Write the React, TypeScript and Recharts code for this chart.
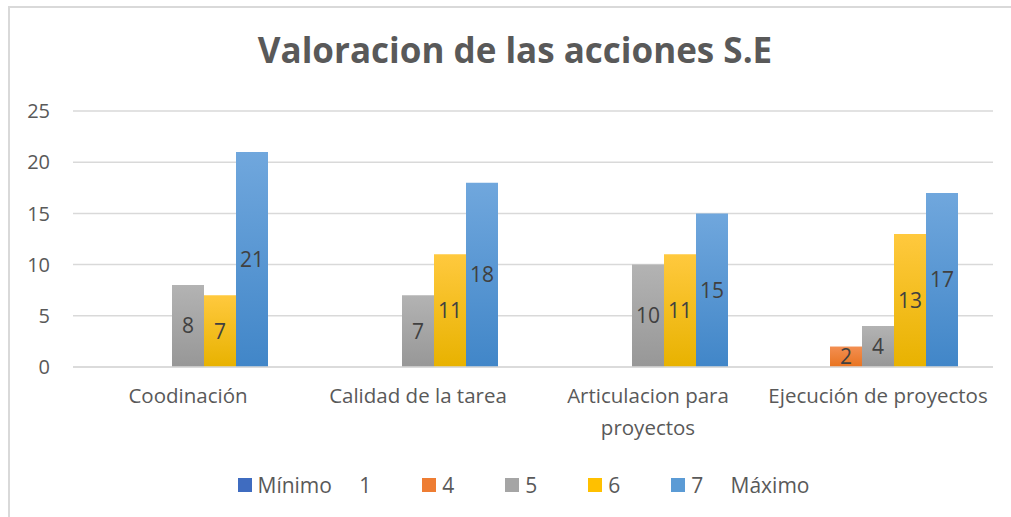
import React from "react";
import {
  BarChart,
  Bar,
  XAxis,
  YAxis,
  CartesianGrid,
  Legend,
  LabelList,
} from "recharts";

const categories = [
  "Coodinación",
  "Calidad de la tarea",
  "Articulacion para proyectos",
  "Ejecución de proyectos",
];
const seriesNames = ["Mínimo     1", "4", "5", "6", "7     Máximo"];
const minimo1 = [0, 0, 0, 0];
const valor4 = [0, 0, 0, 2];
const valor5 = [8, 7, 10, 4];
const valor6 = [7, 11, 11, 13];
const maximo7 = [21, 18, 15, 17];
const yTicks = [0, 5, 10, 15, 20, 25];

const seriesValues = [minimo1, valor4, valor5, valor6, maximo7];
const KEYS = ["s1", "s4", "s5", "s6", "s7"];
// top / bottom of each gradient, legend swatch
const COLORS = [
  { top: "#5080d0", bottom: "#3a66b9", swatch: "#3f6cc0" },
  { top: "#f38f52", bottom: "#e8731f", swatch: "#ee7d33" },
  { top: "#b3b3b3", bottom: "#979797", swatch: "#a5a5a5" },
  { top: "#ffc93e", bottom: "#e8b200", swatch: "#ffc000" },
  { top: "#70a7dd", bottom: "#4186c8", swatch: "#5b9bd5" },
];

const data = categories.map((name, i) => {
  const row: Record<string, string | number> = { name };
  KEYS.forEach((k, j) => {
    row[k] = seriesValues[j][i];
  });
  return row;
});

const FONT = "'Open Sans', 'Noto Sans', sans-serif";
const TEXT = "#595959";

const CategoryTick = (props: any) => {
  const { x, y, payload } = props;
  const label: string = payload.value;
  let lines = [label];
  if (label.length > 24) {
    const cut = label.lastIndexOf(" ", 18);
    lines = [label.slice(0, cut), label.slice(cut + 1)];
  }
  return (
    <text x={x} y={y} textAnchor="middle" fill={TEXT} fontSize={20.5} fontFamily={FONT}>
      {lines.map((l, i) => (
        <tspan key={i} x={x} dy={i === 0 ? "0.9em" : "1.55em"}>
          {l}
        </tspan>
      ))}
    </text>
  );
};

const CustomLegend = () => (
  <div
    style={{
      display: "flex",
      justifyContent: "center",
      alignItems: "center",
      height: 30,
      fontFamily: FONT,
      fontSize: 21,
      color: TEXT,
    }}
  >
    {seriesNames.map((n, i) => (
      <div
        key={n}
        style={{
          display: "flex",
          alignItems: "center",
          marginRight: i < seriesNames.length - 1 ? 51 : 0,
        }}
      >
        <span
          style={{
            width: 14,
            height: 14,
            background: COLORS[i].swatch,
            marginRight: 6,
            display: "inline-block",
          }}
        />
        <span style={{ whiteSpace: "pre" }}>{n}</span>
      </div>
    ))}
  </div>
);

const hideZero = (v: any) => (v === 0 || v == null ? "" : v);

export default function App() {
  return (
    <div
      style={{
        position: "absolute",
        left: 8,
        top: 6,
        width: 1003,
        height: 511,
        borderLeft: "2px solid #d9d9d9",
        borderTop: "2px solid #d9d9d9",
        background: "#fff",
      }}
    >
      <div
        style={{
          position: "absolute",
          left: 0,
          top: 18,
          width: 1010,
          textAlign: "center",
          fontFamily: FONT,
          fontWeight: 700,
          fontSize: 35,
          color: TEXT,
        }}
      >
        Valoracion de las acciones S.E
      </div>
      <BarChart
        width={1001}
        height={509}
        data={data}
        margin={{ top: 103, right: 18, bottom: 50, left: 0 }}
        barCategoryGap={35}
        barGap={0}
      >
        <defs>
          {COLORS.map((c, i) => (
            <linearGradient key={i} id={`grad${i}`} x1="0" y1="0" x2="0" y2="1">
              <stop offset="0%" stopColor={c.top} />
              <stop offset="100%" stopColor={c.bottom} />
            </linearGradient>
          ))}
        </defs>
        <CartesianGrid vertical={false} stroke="#d9d9d9" strokeWidth={1.5} />
        <XAxis
          dataKey="name"
          axisLine={{ stroke: "#d9d9d9", strokeWidth: 1.5 }}
          tickLine={false}
          tickSize={0}
          tickMargin={18}
          height={70}
          interval={0}
          tick={<CategoryTick />}
        />
        <YAxis
          domain={[0, 25]}
          ticks={yTicks}
          axisLine={false}
          tickLine={false}
          tickSize={0}
          tickMargin={23}
          width={63}
          tick={{ fill: TEXT, fontSize: 20, fontFamily: FONT }}
        />
        <Legend
          verticalAlign="bottom"
          content={<CustomLegend />}
          wrapperStyle={{ top: 462, bottom: "auto", left: 13, width: 1001 }}
        />
        {KEYS.map((k, i) => (
          <Bar
            key={k}
            dataKey={k}
            name={seriesNames[i]}
            fill={`url(#grad${i})`}
            isAnimationActive={false}
          >
            <LabelList
              dataKey={k}
              position="center"
              formatter={hideZero}
              fill="#404040"
              fontSize={21}
              fontFamily={FONT}
            />
          </Bar>
        ))}
      </BarChart>
    </div>
  );
}
